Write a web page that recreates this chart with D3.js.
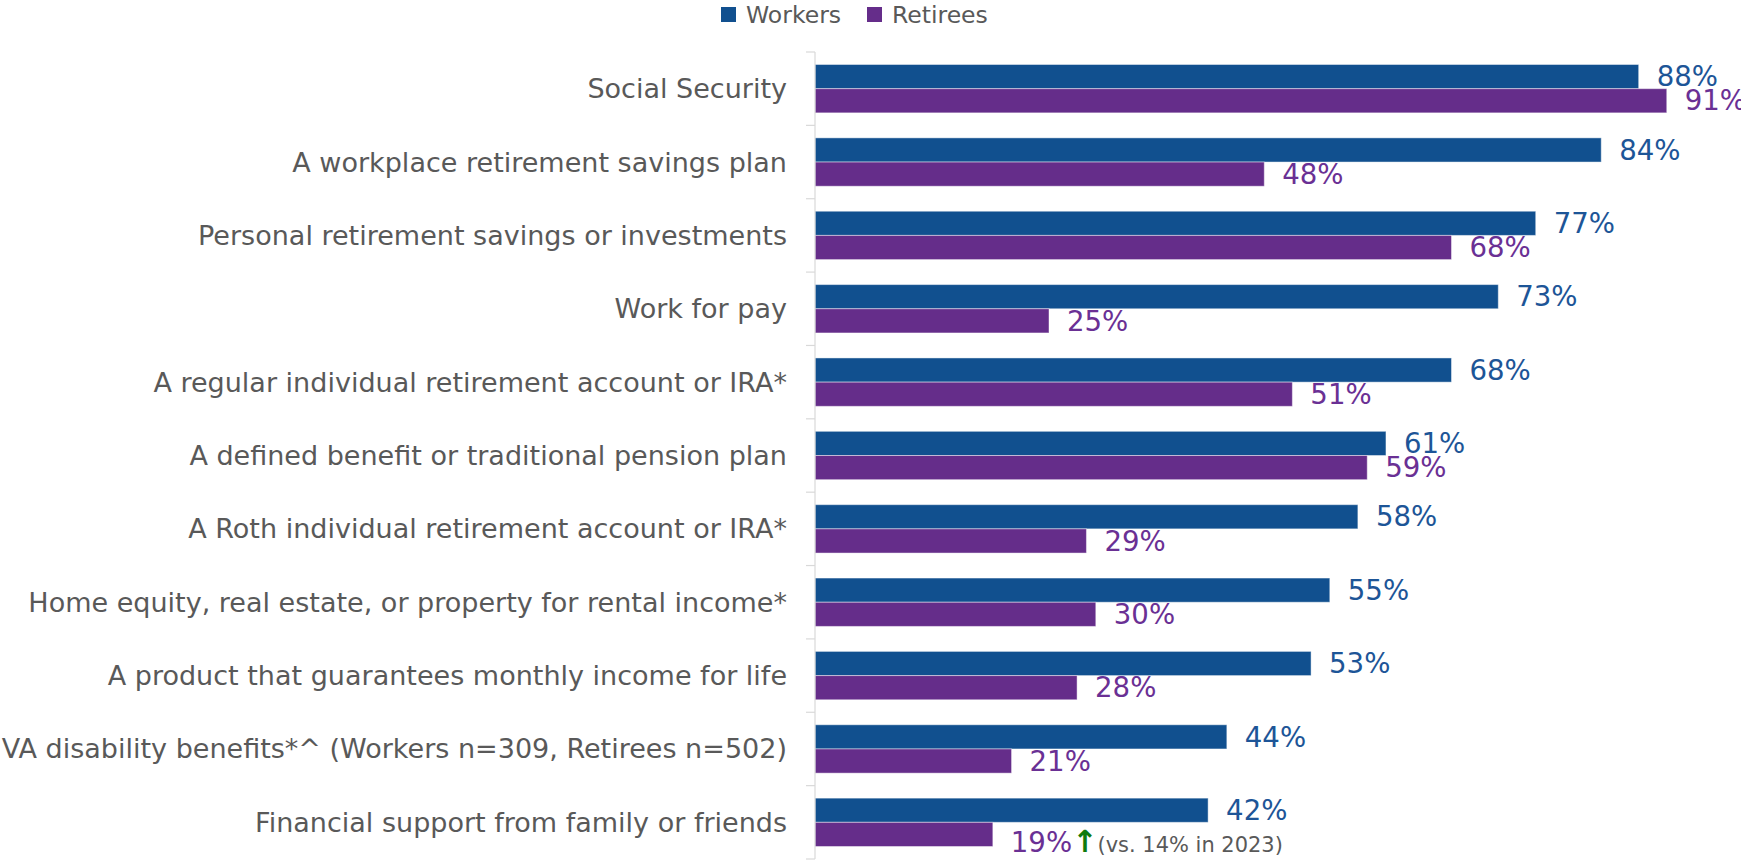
<!DOCTYPE html>
<html><head><meta charset="utf-8">
<script src="https://cdn.jsdelivr.net/npm/d3@7"></script>
<style>
html,body{margin:0;padding:0;background:#fff;}
svg{display:block;}
text{font-family:"DejaVu Sans", "Lato", sans-serif;}
</style></head>
<body>
<svg id="chart" width="1741" height="861"></svg>
<script>
const categories = [
  "Social Security",
  "A workplace retirement savings plan",
  "Personal retirement savings or investments",
  "Work for pay",
  "A regular individual retirement account or IRA*",
  "A defined benefit or traditional pension plan",
  "A Roth individual retirement account or IRA*",
  "Home equity, real estate, or property for rental income*",
  "A product that guarantees monthly income for life",
  "VA disability benefits*^ (Workers n=309, Retirees n=502)",
  "Financial support from family or friends"
];
const workers  = [88, 84, 77, 73, 68, 61, 58, 55, 53, 44, 42];
const retirees = [91, 48, 68, 25, 51, 59, 29, 30, 28, 21, 19];
const seriesNames = ["Workers", "Retirees"];
const colors = ["#11508F", "#652D8A"];
const labelColors = ["#1D5597", "#6A3094"];
const footnote = "(vs. 14% in 2023)";

const svg = d3.select("#chart");
const x0 = 815;
const x = d3.scaleLinear().domain([0, 100]).range([x0, x0 + 936]);
const y = d3.scaleBand().domain(categories).range([52, 859]).paddingInner(0).paddingOuter(0);
const inner = d3.scaleBand().domain(seriesNames).range([12.5, y.bandwidth() - 12.5]);

const data = categories.map((c, i) => ({cat: c, vals: [workers[i], retirees[i]]}));

// bars
const g = svg.append("g");
data.forEach((d, i) => {
  d.vals.forEach((v, s) => {
    g.append("rect")
      .attr("x", x(0))
      .attr("y", y(d.cat) + inner(seriesNames[s]))
      .attr("width", x(v) - x(0))
      .attr("height", inner.bandwidth())
      .attr("fill", colors[s])
      .attr("stroke", "#ffffff").attr("stroke-opacity", 0.45).attr("stroke-width", 1);
  });
});

// axis
const axis = d3.axisLeft(y).tickSize(0).tickFormat("");
const ag = svg.append("g").attr("transform", `translate(${x0},0)`).call(axis);
ag.select(".domain").remove();
ag.append("line").attr("x1", 0).attr("x2", 0).attr("y1", 52).attr("y2", 859).attr("stroke", "#d9d9d9").attr("stroke-width", 1.2);
const bounds = categories.map(c => y(c)).concat([y.range()[1]]);
ag.selectAll("line.bt").data(bounds).enter().append("line").attr("class", "bt")
  .attr("x1", -9).attr("x2", 0).attr("y1", d => d).attr("y2", d => d)
  .attr("stroke", "#d9d9d9").attr("stroke-width", 1.2);

// category labels
let fs = 26;
const catLabels = svg.append("g").selectAll("text").data(categories).enter().append("text")
  .attr("x", x0 - 28)
  .attr("y", d => y(d) + y.bandwidth() / 2)
  .attr("dy", "0.35em")
  .attr("text-anchor", "end")
  .attr("fill", "#595959")
  .style("font-size", fs + "px")
  .text(d => d);
let maxW = d3.max(catLabels.nodes(), n => n.getComputedTextLength());
fs = fs * 786 / maxW;
catLabels.style("font-size", fs + "px");

// value labels
const vfs = fs * 1.02;
data.forEach((d, i) => {
  d.vals.forEach((v, s) => {
    const last = (i === data.length - 1 && s === 1);
    const t = svg.append("text")
      .attr("x", x(v) + 18)
      .attr("y", y(d.cat) + inner(seriesNames[s]) + inner.bandwidth() / 2 + (last ? 8 : 0))
      .attr("dy", "0.35em")
      .attr("fill", labelColors[s])
      .style("font-size", vfs + "px");
    t.append("tspan").text(v + "%");
    if (last) {
      t.append("tspan").attr("fill", "#0F7B0F").attr("font-weight", "bold").style("font-size", (vfs * 1.1) + "px").text("\u2191");
      t.append("tspan").attr("fill", "#595959").style("font-size", (vfs * 0.76) + "px").text(footnote);
    }
  });
});

// legend
const leg = svg.append("g");
const legX = [721, 867];
seriesNames.forEach((n, s) => {
  leg.append("rect").attr("x", legX[s]).attr("y", 7).attr("width", 15).attr("height", 15).attr("fill", colors[s]);
  leg.append("text").attr("x", legX[s] + 25).attr("y", 14.5).attr("dy", "0.35em")
    .attr("fill", "#595959").style("font-size", (fs * 0.87) + "px").text(n);
});
</script>
</body></html>
